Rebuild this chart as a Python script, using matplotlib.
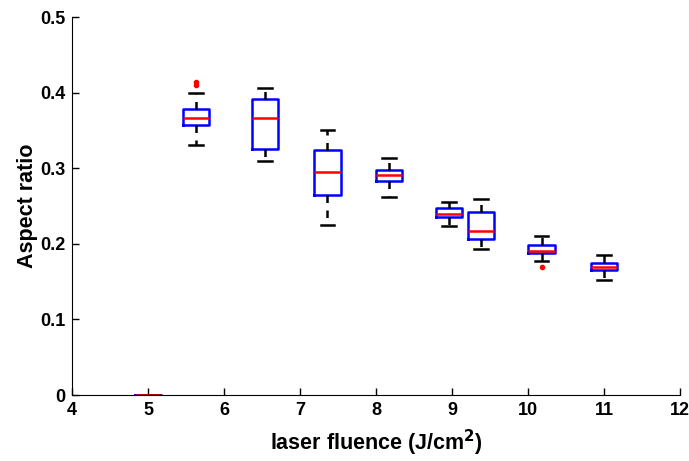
import matplotlib
matplotlib.use('Agg')
import matplotlib.pyplot as plt

# box positions (laser fluence) and five-number summaries
positions = [5.0, 5.63, 6.54, 7.36, 8.17, 8.96, 9.38, 10.18, 11.0]
whislo = [0.0, 0.331, 0.310, 0.225, 0.2615, 0.224, 0.1935, 0.178, 0.152]
q1 = [0.0, 0.357, 0.326, 0.264, 0.283, 0.235, 0.207, 0.188, 0.165]
med = [0.0, 0.366, 0.367, 0.295, 0.291, 0.240, 0.217, 0.191, 0.169]
q3 = [0.0, 0.378, 0.391, 0.324, 0.298, 0.248, 0.242, 0.199, 0.175]
whishi = [0.0, 0.400, 0.406, 0.350, 0.313, 0.256, 0.259, 0.211, 0.185]
fliers = [[], [0.410, 0.414], [], [], [], [], [], [0.170], []]

xticks = [4, 5, 6, 7, 8, 9, 10, 11, 12]
yticks = [0, 0.1, 0.2, 0.3, 0.4, 0.5]

plt.rcParams['font.family'] = ['Liberation Sans', 'DejaVu Sans']
plt.rcParams['font.weight'] = 'bold'

stats = []
for i in range(len(positions)):
    stats.append({'whislo': whislo[i], 'q1': q1[i], 'med': med[i],
                  'q3': q3[i], 'whishi': whishi[i], 'fliers': fliers[i]})

fig = plt.figure(figsize=(6.89, 4.61), dpi=100)
ax = fig.add_axes([0.1045, 0.143, 0.8824, 0.820])

ax.bxp(stats, positions=positions, widths=0.35, manage_ticks=False,
       boxprops=dict(color='blue', linewidth=1.8),
       medianprops=dict(color='red', linewidth=1.8),
       whiskerprops=dict(color='black', linewidth=1.8, linestyle=(0, (3, 3))),
       capprops=dict(color='black', linewidth=1.8),
       capwidths=0.175,
       flierprops=dict(marker='o', markersize=3, markerfacecolor='red',
                       markeredgecolor='red', linestyle='none'))

ax.set_xlim(4, 12)
ax.set_ylim(0, 0.5)
ax.set_xticks(xticks)
ax.set_yticks(yticks)
ax.set_yticklabels(['0', '0.1', '0.2', '0.3', '0.4', '0.5'])
ax.tick_params(direction='in', labelsize=13, length=5, width=1, pad=5)
for lbl in ax.get_xticklabels() + ax.get_yticklabels():
    lbl.set_fontweight('bold')
ax.spines['top'].set_visible(False)
ax.spines['right'].set_visible(False)
ax.set_xlabel('laser fluence (J/cm$^\\mathbf{2}$)', fontsize=15.5, fontweight='bold', labelpad=6)
ax.set_ylabel('Aspect ratio', fontsize=15.5, fontweight='bold', labelpad=1)

fig.savefig('out.png', dpi=100)
